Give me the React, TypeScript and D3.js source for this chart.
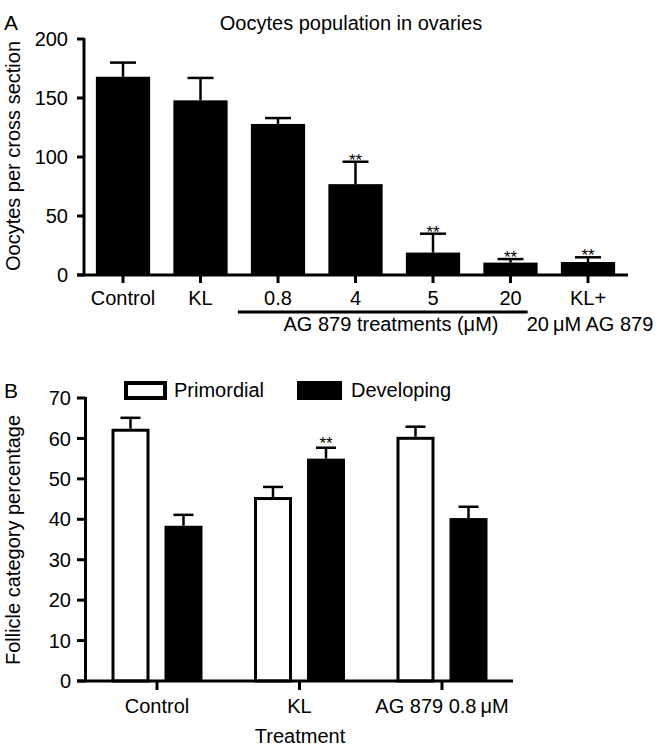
import React from "react";
import * as d3 from "d3";

// ---------- Panel A data ----------
const catsA = ["Control", "KL", "0.8", "4", "5", "20", "KL+"];
const meanA = [168, 148, 128, 77, 19, 10.5, 11];
const errA = [12, 19, 5, 19, 16, 3, 4];
const sigA = [false, false, false, true, true, true, true];
const ticksA = [0, 50, 100, 150, 200];

// ---------- Panel B data ----------
const groupsB = ["Control", "KL", "AG 879 0.8\u2009\u03BCM"];
const seriesB = ["Primordial", "Developing"];
const primordialMean = [62.4, 45.5, 60.4];
const primordialErr = [2.7, 2.5, 2.5];
const developingMean = [38.4, 55, 40.3];
const developingErr = [2.7, 2.7, 2.8];
const sigDeveloping = [false, true, false];
const ticksB = [0, 10, 20, 30, 40, 50, 60, 70];

const FONT = "'Liberation Sans', Arial, Helvetica, sans-serif";

export default function App() {
  const W = 659;
  const H = 750;

  // Panel A scales
  const xA = d3.scaleBand<string>().domain(catsA).range([84.25, 626.75]).paddingInner(0.3).paddingOuter(0.15);
  const yA = d3.scaleLinear().domain([0, 200]).range([275, 39]);
  const axA = 84;

  // Panel B scales
  const xB = d3.scaleBand<string>().domain(groupsB).range([85.75, 513.25]).padding(0);
  const xSeries = d3.scaleBand<string>().domain(seriesB).range([-45.5, 45.5]).paddingInner(0.283).paddingOuter(0);
  const yB = d3.scaleLinear().domain([0, 70]).range([681, 398]);
  const axB = 85.5;

  const seriesData = [
    { name: "Primordial", mean: primordialMean, err: primordialErr, sig: [false, false, false] },
    { name: "Developing", mean: developingMean, err: developingErr, sig: sigDeveloping },
  ];

  return (
    <svg width={W} height={H} style={{ display: "block", position: "absolute", left: 0, top: 0 }} fontFamily={FONT}>
      <rect x={0} y={0} width={W} height={H} fill="#fff" />

      {/* ===== Panel A ===== */}
      <text x={4} y={30} fontSize={21} fill="#000">A</text>
      <text x={351} y={30} fontSize={20} textAnchor="middle" fill="#000">Oocytes population in ovaries</text>
      <text transform={`translate(20,156) rotate(-90)`} fontSize={20} textAnchor="middle" fill="#000">
        Oocytes per cross section
      </text>

      {/* bars */}
      {catsA.map((c, i) => {
        const x0 = xA(c)!;
        const bw = xA.bandwidth();
        const cx = x0 + bw / 2;
        const top = yA(meanA[i]);
        const et = yA(meanA[i] + errA[i]);
        return (
          <g key={c}>
            <rect x={x0} y={top} width={bw} height={yA(0) - top} fill="#000" />
            <line x1={cx} x2={cx} y1={top} y2={et} stroke="#000" strokeWidth={2.5} />
            <line x1={cx - 13} x2={cx + 13} y1={et} y2={et} stroke="#000" strokeWidth={2.5} />
            {sigA[i] && (
              <text x={cx} y={et + 4} fontSize={17} textAnchor="middle" fill="#000">**</text>
            )}
          </g>
        );
      })}

      {/* y axis A */}
      <line x1={axA} x2={axA} y1={yA(200) - 1} y2={yA(0)} stroke="#000" strokeWidth={3} />
      {ticksA.map((t) => (
        <g key={t}>
          <line x1={77} x2={axA} y1={yA(t)} y2={yA(t)} stroke="#000" strokeWidth={3} />
          <text x={68} y={yA(t)} dy="0.36em" fontSize={20} textAnchor="end" fill="#000">{t}</text>
        </g>
      ))}
      {/* x axis A */}
      <line x1={77} x2={628} y1={yA(0)} y2={yA(0)} stroke="#000" strokeWidth={3} />
      {catsA.map((c) => {
        const cx = xA(c)! + xA.bandwidth() / 2;
        return (
          <g key={c}>
            <line x1={cx} x2={cx} y1={yA(0)} y2={yA(0) + 8} stroke="#000" strokeWidth={3} />
            <text x={cx} y={305} fontSize={20} textAnchor="middle" fill="#000">{c}</text>
          </g>
        );
      })}
      {/* treatment bracket */}
      <line
        x1={xA("0.8")! - 13}
        x2={xA("20")! + xA.bandwidth() - 10}
        y1={312}
        y2={312}
        stroke="#000"
        strokeWidth={3}
      />
      <text x={391} y={331} fontSize={20} textAnchor="middle" fill="#000">AG 879 treatments (μM)</text>
      <text x={xA("KL+")! + xA.bandwidth() / 2 + 2} y={331} fontSize={20} textAnchor="middle" fill="#000">
        20{"\u2009"}μM AG 879
      </text>

      {/* ===== Panel B ===== */}
      <text x={4} y={398} fontSize={21} fill="#000">B</text>

      {/* legend */}
      <rect x={126} y={383} width={39} height={15} fill="#fff" stroke="#000" strokeWidth={4} />
      <text x={174} y={397} fontSize={20} fill="#000">Primordial</text>
      <rect x={297} y={381} width={45} height={19} fill="#000" />
      <text x={351} y={397} fontSize={20} fill="#000">Developing</text>

      <text transform={`translate(20,540) rotate(-90)`} fontSize={20} textAnchor="middle" fill="#000">
        Follicle category percentage
      </text>

      {groupsB.map((g, gi) => {
        const gc = xB(g)! + xB.bandwidth() / 2;
        return (
          <g key={g}>
            {seriesData.map((s) => {
              const x0 = gc + xSeries(s.name)!;
              const bw = xSeries.bandwidth();
              const cx = x0 + bw / 2;
              const top = yB(s.mean[gi]);
              const et = yB(s.mean[gi] + s.err[gi]);
              const filled = s.name === "Developing";
              return (
                <g key={s.name}>
                  <line x1={cx} x2={cx} y1={top} y2={et} stroke="#000" strokeWidth={2.5} />
                  <line x1={cx - 10} x2={cx + 10} y1={et} y2={et} stroke="#000" strokeWidth={2.5} />
                  {filled ? (
                    <rect x={x0} y={top} width={bw} height={yB(0) - top} fill="#000" />
                  ) : (
                    <rect
                      x={x0 + 1.5}
                      y={top + 1.5}
                      width={bw - 3}
                      height={yB(0) - top - 1.5}
                      fill="#fff"
                      stroke="#000"
                      strokeWidth={3}
                    />
                  )}
                  {s.sig[gi] && (
                    <text x={cx} y={et + 1} fontSize={17} textAnchor="middle" fill="#000">**</text>
                  )}
                </g>
              );
            })}
          </g>
        );
      })}

      {/* y axis B */}
      <line x1={axB} x2={axB} y1={yB(70) - 1} y2={yB(0)} stroke="#000" strokeWidth={3} />
      {ticksB.map((t) => (
        <g key={t}>
          <line x1={77} x2={axB} y1={yB(t)} y2={yB(t)} stroke="#000" strokeWidth={3} />
          <text x={71} y={yB(t)} dy="0.36em" fontSize={20} textAnchor="end" fill="#000">{t}</text>
        </g>
      ))}
      {/* x axis B */}
      <line x1={77} x2={513} y1={yB(0)} y2={yB(0)} stroke="#000" strokeWidth={3} />
      {groupsB.map((g) => {
        const gc = xB(g)! + xB.bandwidth() / 2;
        return (
          <g key={g}>
            <line x1={gc} x2={gc} y1={yB(0)} y2={yB(0) + 9} stroke="#000" strokeWidth={3} />
            <text x={gc} y={713} fontSize={20} textAnchor="middle" fill="#000">{g}</text>
          </g>
        );
      })}
      <text x={300} y={743} fontSize={20} textAnchor="middle" fill="#000">Treatment</text>
    </svg>
  );
}
